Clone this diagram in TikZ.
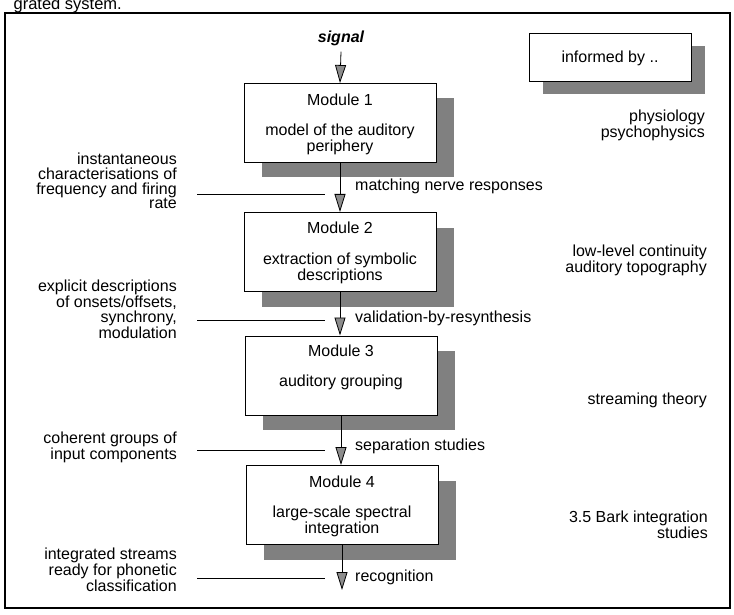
\documentclass[tikz,border=0pt]{standalone}
\usepackage{fontspec}
\setmainfont{Liberation Sans}
\usetikzlibrary{arrows.meta,shadows}
\begin{document}
\begin{tikzpicture}[x=1pt,y=-1pt,
  every node/.style={font=\fontsize{16}{14.8}\selectfont, inner sep=0pt},
  modbox/.style={draw=black, line width=1pt, fill=white, minimum width=192pt, minimum height=79pt,
    general shadow={fill=black!50, shadow xshift=18pt, shadow yshift=-15pt}},
  infobox/.style={draw=black, line width=1pt, fill=white, minimum width=162pt, minimum height=48pt,
    general shadow={fill=black!50, shadow xshift=14pt, shadow yshift=-12pt}},
  modtext/.style={anchor=north, align=center},
  lefttext/.style={anchor=east, align=right},
  righttext/.style={anchor=east, align=right},
  midtext/.style={anchor=west},
  flow/.style={line width=0.8pt, -{Triangle[width=11pt,length=18pt,fill=black!45]}},
  feed/.style={line width=0.8pt}
]
\useasboundingbox (0,0) rectangle (734,615);
\fill[white] (0,0) rectangle (734,615);

% caption fragment
\node[anchor=base east, font=\fontsize{16.5}{16.5}\selectfont] (cap) at (122,9.5) {grated system.};

% frame
\draw[line width=1.2pt] (5,13) rectangle (730,608);

% signal
\node[font=\fontsize{16}{16}\selectfont\bfseries\itshape] (sig) at (341,38) {signal};

% modules
\node[modbox] (m1) at (340,123) {};
\node[modtext] (m1t) at ([yshift=-11pt]m1.north) {Module 1\\[14.5pt]model of the auditory\\periphery};
\node[modbox] (m2) at (340,252) {};
\node[modtext] (m2t) at ([yshift=-9.5pt]m2.north) {Module 2\\[16pt]extraction of symbolic\\descriptions};
\node[modbox] (m3) at (341,375.5) {};
\node[modtext] (m3t) at ([yshift=-9.5pt]m3.north) {Module 3\\[15pt]auditory grouping};
\node[modbox] (m4) at (342,505) {};
\node[modtext] (m4t) at ([yshift=-10.5pt]m4.north) {Module 4\\[15pt]large-scale spectral\\integration};

% informed by
\node[infobox] (inf) at (610,58) {informed by ..};

% right texts
\node[righttext] (r1) at (705,125.5) {physiology\\psychophysics};
\node[righttext] (r2) at (707,260) {low-level continuity\\auditory topography};
\node[righttext] (r3) at (707,400) {streaming theory};
\node[righttext] (r4) at (708,525) {3.5 Bark integration\\studies};

% left texts
\node[lefttext] (t1) at (177,181) {instantaneous\\characterisations of\\frequency and firing\\rate};
\node[lefttext] (t2) at (177,309) {explicit descriptions\\of onsets/offsets,\\synchrony,\\modulation};
\node[lefttext] (t3) at (177,447.5) {coherent groups of\\input components};
\node[lefttext] (t4) at (177,570) {integrated streams\\ready for phonetic\\classification};

% mid labels
\node[midtext] (l1) at (355,186) {matching nerve responses};
\node[midtext] (l2) at (355,318) {validation-by-resynthesis};
\node[midtext] (l3) at (355,446) {separation studies};
\node[midtext] (l4) at (355,577) {recognition};

% flow arrows
\draw[flow] ([yshift=-6pt]sig.south) -- (m1.north);
\draw[flow] (m1.south) -- (m2.north);
\draw[flow] (m2.south) -- (m3.north -| m2.south);
\draw[flow] (m3.south) -- (m4.north -| m3.south);
\coordinate (m4end) at (342,590);
\draw[flow] (m4.south) -- (m4end);

% feed lines
\coordinate (h1a) at (197,194); \coordinate (h1b) at (325,194);
\coordinate (h2a) at (197,320); \coordinate (h2b) at (325,320);
\coordinate (h3a) at (197,450); \coordinate (h3b) at (325,450);
\coordinate (h4a) at (197,578); \coordinate (h4b) at (325,578);
\draw[feed] (h1a) -- (h1b);
\draw[feed] (h2a) -- (h2b);
\draw[feed] (h3a) -- (h3b);
\draw[feed] (h4a) -- (h4b);
\end{tikzpicture}
\end{document}
